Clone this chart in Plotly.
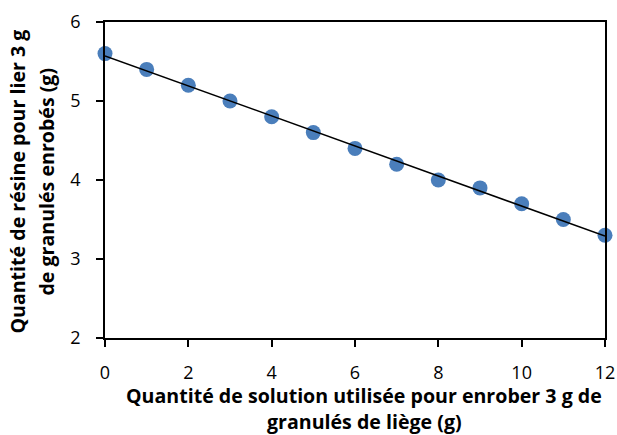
import plotly.graph_objects as go
import numpy as np

# Quantité de solution (g) et quantité de résine (g)
solution = [0, 1, 2, 3, 4, 5, 6, 7, 8, 9, 10, 11, 12]
resine = [5.6, 5.4, 5.2, 5.0, 4.8, 4.6, 4.4, 4.2, 4.0, 3.9, 3.7, 3.5, 3.3]

x_ticks = [0, 2, 4, 6, 8, 10, 12]
y_ticks = [2, 3, 4, 5, 6]

titre_x = ["Quantité de solution utilisée pour enrober 3 g de", "granulés de liège (g)"]
titre_y = ["Quantité de résine pour lier 3 g", "de granulés enrobés (g)"]

# droite de tendance (régression linéaire)
pente, origine = np.polyfit(solution, resine, 1)
x_fit = np.array([min(solution), max(solution)])
y_fit = pente * x_fit + origine

police = "Open Sans"

fig = go.Figure()
fig.add_trace(go.Scatter(x=solution, y=resine, mode="markers",
                         marker=dict(size=15, color="#4A7EBB"), showlegend=False,
                         cliponaxis=False))
fig.add_trace(go.Scatter(x=x_fit, y=y_fit, mode="lines",
                         line=dict(color="black", width=1.5), showlegend=False))

axe = dict(ticks="outside", ticklen=7, tickwidth=1.5, tickcolor="black",
           showline=True, linecolor="black", linewidth=1.5, mirror=True,
           showgrid=False, zeroline=False, automargin=False)

fig.update_layout(
    width=617, height=435,
    margin=dict(l=105, r=12, t=22, b=97),
    paper_bgcolor="white", plot_bgcolor="white",
    font=dict(family=police, size=18, color="black"),
    xaxis=dict(axe, range=[0, 12], tickvals=x_ticks, ticklabelstandoff=11),
    yaxis=dict(axe, range=[2, 6], tickvals=y_ticks, ticklabelstandoff=12),
)

# titres des axes (deux lignes chacun)
for i, ligne in enumerate(titre_x):
    fig.add_annotation(text="<b>" + ligne + "</b>", xref="paper", yref="paper",
                       x=0.518, y=0, yanchor="middle", showarrow=False,
                       yshift=-57 - 26 * i, font=dict(size=19.6))
for i, ligne in enumerate(titre_y):
    fig.add_annotation(text="<b>" + ligne + "</b>", xref="paper", yref="paper",
                       x=0, y=0.495, xanchor="center", showarrow=False,
                       xshift=-87 + 29 * i, textangle=-90, font=dict(size=19.6))

# pas de marge autour du graphique dans la page
fig.write_html("out.html", config={"displayModeBar": False},
               post_script="document.body.style.margin='0';")
